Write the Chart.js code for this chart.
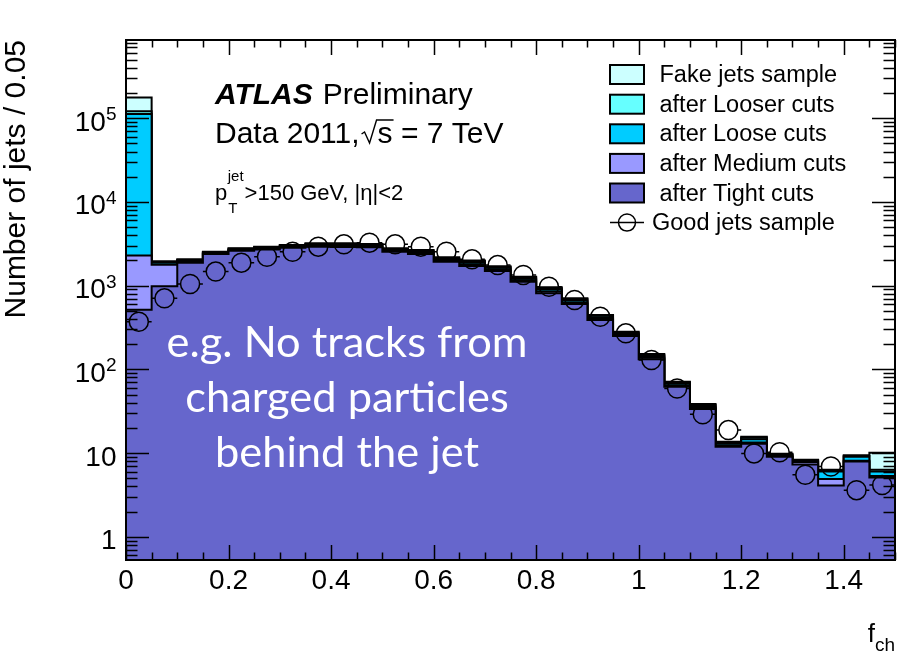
<!DOCTYPE html>
<html>
<head>
<meta charset="utf-8">
<script src="https://cdn.jsdelivr.net/npm/chart.js@4.4.1/dist/chart.umd.min.js"></script>
<style>
  html, body { margin: 0; padding: 0; background: #ffffff; }
  #wrap { width: 899px; height: 653px; position: relative; }
</style>
</head>
<body>
<div id="wrap"><canvas id="chart" width="899" height="653"></canvas></div>
<script>
// ---- f_ch histogram bins (lower edges, width 0.05) ----
const binLow = [0.00, 0.05, 0.10, 0.15, 0.20, 0.25, 0.30, 0.35, 0.40, 0.45,
                0.50, 0.55, 0.60, 0.65, 0.70, 0.75, 0.80, 0.85, 0.90, 0.95,
                1.00, 1.05, 1.10, 1.15, 1.20, 1.25, 1.30, 1.35, 1.40, 1.45];
const binWidth = 0.05;

// ---- jet counts per bin ----
const fakeJets   = [177000, 1950, 2060, 2540, 2790, 2920, 3050, 3200, 3200, 3140,
                    2790, 2660, 2180, 1990, 1700, 1280, 955, 705, 446, 281,
                    152, 71, 38.5, 13.6, 15.6, 9.8, 8.3, 6.3, 9.4, 10.1];
const looserCuts = [121000, 1920, 2030, 2500, 2750, 2880, 3010, 3150, 3150, 3090,
                    2740, 2610, 2140, 1950, 1670, 1250, 930, 690, 435, 275,
                    148, 69.5, 37.5, 13.3, 15.2, 9.6, 8.2, 6.1, 9.2, 6.3];
const looseCuts  = [112000, 1880, 1990, 2460, 2710, 2830, 2960, 3090, 3080, 3030,
                    2680, 2540, 2080, 1890, 1630, 1210, 900, 665, 420, 268,
                    143, 67, 36, 12.9, 14.6, 9.4, 8.0, 6.0, 9.0, 6.0];
const mediumCuts = [2290, 1780, 1930, 2420, 2660, 2770, 2900, 3000, 2990, 2950,
                    2610, 2460, 2010, 1800, 1570, 1160, 850, 630, 402, 258,
                    137, 64, 34.5, 12.3, 13.4, 9.1, 7.8, 4.9, 8.1, 5.3];
const tightCuts  = [516, 980, 1880, 2380, 2610, 2710, 2840, 2920, 2900, 2870,
                    2540, 2380, 1930, 1710, 1500, 1110, 809, 603, 388, 250,
                    132, 62, 33.6, 11.9, 12.9, 9.0, 7.3, 4.1, 7.9, 5.1];
const goodJets   = [370, 705, 1045, 1470, 1880, 2210, 2540, 2920, 3110, 3260,
                    3110, 2920, 2540, 2060, 1760, 1340, 970, 673, 425, 269,
                    129, 59, 29, 18.8, 9.9, 10.2, 5.5, 6.9, 3.6, 4.15];

// ---- axis ticks ----
const xTickValues = [0, 0.2, 0.4, 0.6, 0.8, 1.0, 1.2, 1.4];
const xTickLabels = ['0', '0.2', '0.4', '0.6', '0.8', '1', '1.2', '1.4'];
const yTickValues = [1, 10, 100, 1000, 10000, 100000];
const yTickBase   = ['1', '10', '10', '10', '10', '10'];
const yTickExp    = ['', '', '2', '3', '4', '5'];

// ---- legend ----
const legendLabels = ['Fake jets sample', 'after Looser cuts', 'after Loose cuts',
                      'after Medium cuts', 'after Tight cuts', 'Good jets sample'];
const legendColors = ['#ccffff', '#66ffff', '#00ccff', '#9999ff', '#6666cc', null];

const X_MIN = 0, X_MAX = 1.5, Y_MIN = 0.527, Y_MAX = 8.6e5;
const HELV = '"Liberation Sans", Arial, Helvetica, sans-serif';

// step outline: value of a bin is held from its lower edge to the next edge
function histPoints(values) {
  const pts = binLow.map((x, i) => ({ x: x, y: values[i] }));
  pts.push({ x: X_MAX, y: values[values.length - 1] });
  return pts;
}
function histDataset(label, values, color) {
  return {
    label: label,
    data: histPoints(values),
    stepped: true,
    fill: 'start',
    backgroundColor: color,
    borderColor: '#000000',
    borderWidth: 2,
    pointRadius: 0,
    pointHoverRadius: 0,
    tension: 0
  };
}

const goodPoints = binLow.map((x, i) => ({ x: x + binWidth / 2, y: goodJets[i] }));
const MARKER_R = 9.5;

// error bars across each bin, stopping at the open marker
const errorBars = {
  id: 'errorBars',
  afterDatasetsDraw(chart) {
    const { ctx, scales: { x, y } } = chart;
    ctx.save();
    ctx.strokeStyle = '#000';
    ctx.lineWidth = 1.5;
    goodPoints.forEach((p) => {
      const cx = x.getPixelForValue(p.x);
      const cy = y.getPixelForValue(p.y);
      const l = x.getPixelForValue(p.x - binWidth / 2);
      const r = x.getPixelForValue(p.x + binWidth / 2);
      ctx.beginPath();
      ctx.moveTo(l, cy); ctx.lineTo(cx - MARKER_R, cy);
      ctx.moveTo(cx + MARKER_R, cy); ctx.lineTo(r, cy);
      ctx.stroke();
    });
    ctx.restore();
  }
};

// frame, inward ticks on all four sides, tick labels and titles
const frameAndAxes = {
  id: 'frameAndAxes',
  afterDraw(chart) {
    const { ctx, chartArea: a, scales: { x, y } } = chart;
    ctx.save();
    ctx.strokeStyle = '#000';
    ctx.lineWidth = 1.5;
    ctx.beginPath();
    // x ticks every 0.05, long at labelled values
    for (let k = 0; k <= 30; k++) {
      const v = k * binWidth;
      const px = Math.round(x.getPixelForValue(v)) + 0.5;
      const major = (k % 4 === 0);
      const len = major ? 15 : 7.5;
      ctx.moveTo(px, a.bottom); ctx.lineTo(px, a.bottom - len);
      ctx.moveTo(px, a.top); ctx.lineTo(px, a.top + len);
    }
    // y ticks: decades long, 2..9 short
    for (let d = -1; d <= 5; d++) {
      for (let m = 1; m <= 9; m++) {
        const v = m * Math.pow(10, d);
        if (v < Y_MIN || v > Y_MAX) continue;
        const py = Math.round(y.getPixelForValue(v)) + 0.5;
        const len = (m === 1) ? 23 : 11.5;
        ctx.moveTo(a.left, py); ctx.lineTo(a.left + len, py);
        ctx.moveTo(a.right, py); ctx.lineTo(a.right - len, py);
      }
    }
    ctx.stroke();

    ctx.lineWidth = 2;
    ctx.strokeRect(a.left, a.top, a.right - a.left, a.bottom - a.top);

    ctx.fillStyle = '#000';
    // x labels
    ctx.font = '28px ' + HELV;
    ctx.textAlign = 'center';
    ctx.textBaseline = 'alphabetic';
    xTickValues.forEach((v, i) => {
      ctx.fillText(xTickLabels[i], x.getPixelForValue(v), 589);
    });
    // y labels with superscript exponents
    ctx.textAlign = 'right';
    const labelRight = 116.5;
    yTickValues.forEach((v, i) => {
      const py = y.getPixelForValue(v);
      let right = labelRight;
      if (yTickExp[i]) {
        ctx.font = '19px ' + HELV;
        ctx.fillText(yTickExp[i], right, py + 2);
        right -= ctx.measureText(yTickExp[i]).width;
      }
      ctx.font = '28px ' + HELV;
      ctx.fillText(yTickBase[i], right, py + 12.5);
    });

    // y title, rotated, ending at the top of the frame
    ctx.save();
    ctx.translate(25, a.top);
    ctx.rotate(-Math.PI / 2);
    ctx.font = '30px ' + HELV;
    ctx.textAlign = 'right';
    ctx.fillText('Number of jets / 0.05', 0, 0);
    ctx.restore();

    // x title f_ch
    ctx.textAlign = 'left';
    ctx.font = '19px ' + HELV;
    const chW = ctx.measureText('ch').width;
    ctx.fillText('ch', a.right - chW, 651);
    ctx.font = '26px ' + HELV;
    const fW = ctx.measureText('f').width;
    ctx.fillText('f', a.right - chW - fW, 641.5);

    // ATLAS Preliminary
    ctx.font = 'italic bold 30px ' + HELV;
    ctx.fillText('ATLAS', 215, 103.5);
    const atW = ctx.measureText('ATLAS').width;
    ctx.font = '30px ' + HELV;
    ctx.fillText('Preliminary', 215 + atW + 10, 103.5);

    // Data 2011, sqrt(s) = 7 TeV
    const by = 143;
    ctx.fillText('Data 2011,', 215, by);
    let cx = 215 + ctx.measureText('Data 2011,').width + 2;
    const sW = ctx.measureText('s').width;
    ctx.lineWidth = 1.4;
    ctx.beginPath();
    ctx.moveTo(cx, by - 9);
    ctx.lineTo(cx + 3, by - 11);
    ctx.lineTo(cx + 8, by);
    ctx.lineTo(cx + 15, by - 23);
    ctx.lineTo(cx + 16 + sW + 1, by - 23);
    ctx.stroke();
    ctx.fillText('s', cx + 16, by);
    cx += 16 + sW;
    ctx.fillText(' = 7 TeV', cx, by);

    // p_T^jet > 150 GeV, |eta| < 2
    ctx.font = '22px ' + HELV;
    ctx.fillText('p', 215, 200);
    const pW = ctx.measureText('p').width;
    ctx.font = '15px ' + HELV;
    ctx.fillText('jet', 215 + pW + 0.5, 181);
    ctx.fillText('T', 215 + pW + 1, 213);
    const jW = ctx.measureText('jet').width;
    ctx.font = '22px ' + HELV;
    ctx.fillText('>150 GeV, |\u03b7|<2', 215 + pW + jW + 1.5, 200);

    // legend
    const boxL = 610, boxW = 34, boxH = 19;
    const rowY = [74.5, 104.2, 133.8, 163.4, 193, 222.6];
    legendLabels.forEach((lab, i) => {
      const cy = rowY[i];
      if (legendColors[i]) {
        ctx.fillStyle = legendColors[i];
        ctx.fillRect(boxL, cy - boxH / 2, boxW, boxH);
        ctx.strokeStyle = '#000';
        ctx.lineWidth = 2;
        ctx.strokeRect(boxL, cy - boxH / 2, boxW, boxH);
        ctx.fillStyle = '#000';
        ctx.font = '23.5px ' + HELV;
        ctx.fillText(lab, 659.5, cy + 7.5);
      } else {
        ctx.strokeStyle = '#000';
        ctx.lineWidth = 1.5;
        ctx.beginPath();
        ctx.moveTo(boxL, cy); ctx.lineTo(boxL + boxW, cy);
        ctx.stroke();
        ctx.beginPath();
        ctx.arc(boxL + boxW / 2, cy, 8.5, 0, Math.PI * 2);
        ctx.stroke();
        ctx.fillStyle = '#000';
        ctx.font = '23.5px ' + HELV;
        ctx.fillText(lab, 652, cy + 7.5);
      }
    });

    // annotation on the plot
    const note = ['e.g. No tracks from', 'charged particles', 'behind the jet'];
    const noteFam = 'Lato, "Open Sans", sans-serif';
    ctx.font = '40px ' + noteFam;
    const size = 40 * 361 / ctx.measureText(note[0]).width;
    ctx.font = size.toFixed(1) + 'px ' + noteFam;
    ctx.fillStyle = '#ffffff';
    ctx.textAlign = 'center';
    [357, 412, 467].forEach((yy, i) => ctx.fillText(note[i], 347, yy));

    ctx.restore();
  }
};

new Chart(document.getElementById('chart'), {
  type: 'line',
  data: {
    datasets: [
      {
        label: 'Good jets sample',
        data: goodPoints,
        showLine: false,
        pointStyle: 'circle',
        pointRadius: MARKER_R,
        pointHoverRadius: MARKER_R,
        pointBackgroundColor: 'rgba(0,0,0,0)',
        pointBorderColor: '#000000',
        pointBorderWidth: 1.5,
        fill: false
      },
      histDataset('after Tight cuts', tightCuts, '#6666cc'),
      histDataset('after Medium cuts', mediumCuts, '#9999ff'),
      histDataset('after Loose cuts', looseCuts, '#00ccff'),
      histDataset('after Looser cuts', looserCuts, '#66ffff'),
      histDataset('Fake jets sample', fakeJets, '#ccffff')
    ]
  },
  options: {
    responsive: false,
    animation: false,
    devicePixelRatio: 1,
    layout: { autoPadding: false, padding: { left: 126, top: 40, right: 4, bottom: 93 } },
    plugins: { legend: { display: false }, tooltip: { enabled: false } },
    events: [],
    scales: {
      x: { type: 'linear', min: X_MIN, max: X_MAX, display: false },
      y: { type: 'logarithmic', min: Y_MIN, max: Y_MAX, display: false }
    }
  },
  plugins: [errorBars, frameAndAxes]
});
</script>
</body>
</html>
